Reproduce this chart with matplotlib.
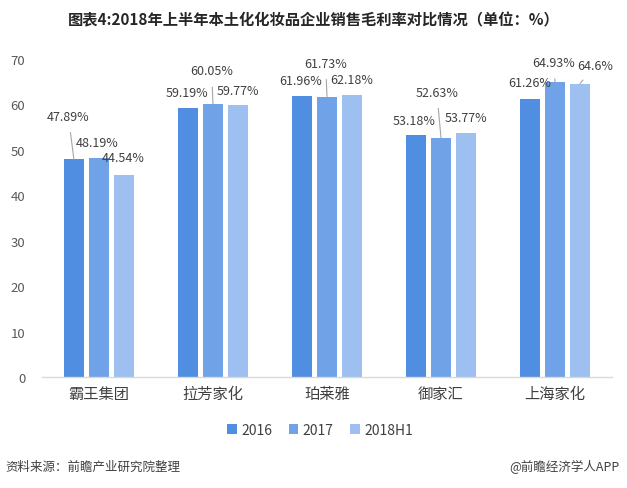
import matplotlib
matplotlib.use("Agg")
import matplotlib.pyplot as plt
import numpy as np

plt.rcParams['font.family'] = ['Noto Sans CJK SC', 'DejaVu Sans']

categories = ['霸王集团', '拉芳家化', '珀莱雅', '御家汇', '上海家化']
series_names = ['2016', '2017', '2018H1']
v2016 = [47.89, 59.19, 61.96, 53.18, 61.26]
v2017 = [48.19, 60.05, 61.73, 52.63, 64.93]
v2018 = [44.54, 59.77, 62.18, 53.77, 64.6]
labels2016 = ['47.89%', '59.19%', '61.96%', '53.18%', '61.26%']
labels2017 = ['48.19%', '60.05%', '61.73%', '52.63%', '64.93%']
labels2018 = ['44.54%', '59.77%', '62.18%', '53.77%', '64.6%']
yticks = [0, 10, 20, 30, 40, 50, 60, 70]

colors = ['#4F8EE0', '#6FA2E6', '#9DC0F0']
# label offsets in points (dx, dy) and whether a leader line is drawn
offsets = [
    [(-4, -31, True), (-1, -11, False), (-1, -12, False)],
    [(-1, -11, False), (-1, -24, True), (0, -11, False)],
    [(-1, -11, False), (-1, -24, True), (0, -11, False)],
    [(-1, -11, False), (-3, -33, True), (0, -11, False)],
    [(0, -12, False), (-1, -14, True), (11, -13, True)],
]

fig = plt.figure(figsize=(6.27, 4.89), dpi=100)
ax = fig.add_axes([42/627, 1-378/489, 570/627, 318/489])

x = np.arange(len(categories))
width = 0.175
step = 0.22
all_vals = [v2016, v2017, v2018]
all_labels = [labels2016, labels2017, labels2018]
for s in range(3):
    xs = x + (s - 1) * step
    ax.bar(xs, all_vals[s], width=width, color=colors[s], label=series_names[s], zorder=2)
    for i in range(len(categories)):
        dx, dy, line = offsets[i][s]
        ax.annotate(all_labels[s][i], xy=(xs[i], all_vals[s][i]),
                    xytext=(dx * 0.72 / 0.72, -dy), textcoords='offset points',
                    ha='center', va='center', fontsize=9, color='#404040',
                    arrowprops=dict(arrowstyle='-', color='#A6A6A6', lw=0.8,
                                    shrinkA=5, shrinkB=0) if line else None,
                    annotation_clip=False)

ax.set_xlim(-0.5, len(categories) - 0.5)
ax.set_ylim(0, 70)
ax.set_yticks(yticks)
ax.set_yticklabels([str(t) for t in yticks], fontsize=9.5, color='#595959')
ax.set_xticks(x)
ax.set_xticklabels(categories, fontsize=11, color='#404040')
ax.tick_params(axis='both', length=0)
ax.tick_params(axis='y', pad=12)
ax.tick_params(axis='x', pad=6)
for sp in ['top', 'right', 'left']:
    ax.spines[sp].set_visible(False)
ax.spines['bottom'].set_color('#D9D9D9')
ax.spines['bottom'].set_linewidth(1)

leg = fig.legend(loc='center', bbox_to_anchor=(320/627, 1-431/489), ncol=3, frameon=False,
                 fontsize=10, handlelength=0.7, handleheight=0.7, handletextpad=0.3,
                 columnspacing=1.2)
for t in leg.get_texts():
    t.set_color('#404040')

fig.text(0.5, 1-20/489, '图表4:2018年上半年本土化化妆品企业销售毛利率对比情况（单位：%）',
         ha='center', va='center', fontsize=11, fontweight='bold', color='#262626')
fig.text(5/627, 1-467/489, '资料来源：前瞻产业研究院整理', ha='left', va='center',
         fontsize=9, style='italic', color='#404040')
fig.text(620/627, 1-467/489, '@前瞻经济学人APP', ha='right', va='center',
         fontsize=9, color='#404040')

fig.savefig('out.png', dpi=100)
